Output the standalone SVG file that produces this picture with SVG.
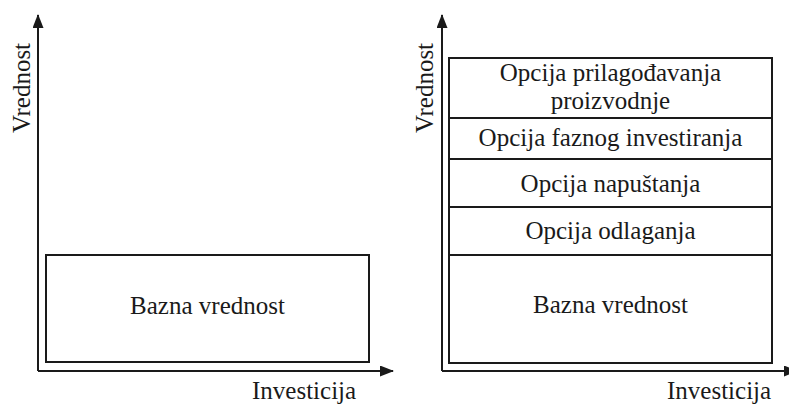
<svg xmlns="http://www.w3.org/2000/svg" width="789" height="404" viewBox="0 0 789 404">
<style>
.ax{stroke:#1a1a1a;stroke-width:2;fill:none}
.bx{stroke:#1a1a1a;stroke-width:2;fill:#fff}
text{font-family:"Liberation Serif","Times New Roman",serif;font-size:25px;fill:#1a1a1a}
.c{text-anchor:middle}
</style>
<defs>
<marker id="arr" viewBox="0 0 14 11" refX="13" refY="5.5" markerWidth="14" markerHeight="11" markerUnits="userSpaceOnUse" orient="auto">
<path d="M0,0 L14,5.5 L0,11 Z" fill="#1a1a1a"/>
</marker>
</defs>
<rect width="789" height="404" fill="#fff"/>
<g id="connectors">
<path class="ax" d="M38,371 V15" marker-end="url(#arr)"/>
<path class="ax" d="M38,371 H393" marker-end="url(#arr)"/>
<path class="ax" d="M442,371 V15" marker-end="url(#arr)"/>
<path class="ax" d="M442,371 H797" marker-end="url(#arr)"/>
</g>
<g id="labels">
<text class="c" transform="translate(30,88) rotate(-90)">Vrednost</text>
<text x="252" y="399">Investicija</text>
<text class="c" transform="translate(433,88) rotate(-90)">Vrednost</text>
<text x="667" y="399">Investicija</text>
</g>
<g id="left-base">
<rect class="bx" x="46" y="255" width="323" height="107"/>
<text class="c" x="207.5" y="314">Bazna vrednost</text>
</g>
<g id="right-base">
<rect class="bx" x="449" y="255" width="323" height="108"/>
<text class="c" x="610.5" y="313">Bazna vrednost</text>
</g>
<g id="opt-odlaganja">
<rect class="bx" x="449" y="207" width="323" height="48"/>
<text class="c" x="610.5" y="239">Opcija odlaganja</text>
</g>
<g id="opt-napustanja">
<rect class="bx" x="449" y="159" width="323" height="48"/>
<text class="c" x="610.5" y="192">Opcija napuštanja</text>
</g>
<g id="opt-faznog">
<rect class="bx" x="449" y="118" width="323" height="41"/>
<text class="c" x="610.5" y="146">Opcija faznog investiranja</text>
</g>
<g id="opt-prilagodjavanja">
<rect class="bx" x="449" y="58" width="323" height="60"/>
<text class="c" x="610.5" y="81">Opcija prilagođavanja</text>
<text class="c" x="610.5" y="109">proizvodnje</text>
</g>
</svg>
